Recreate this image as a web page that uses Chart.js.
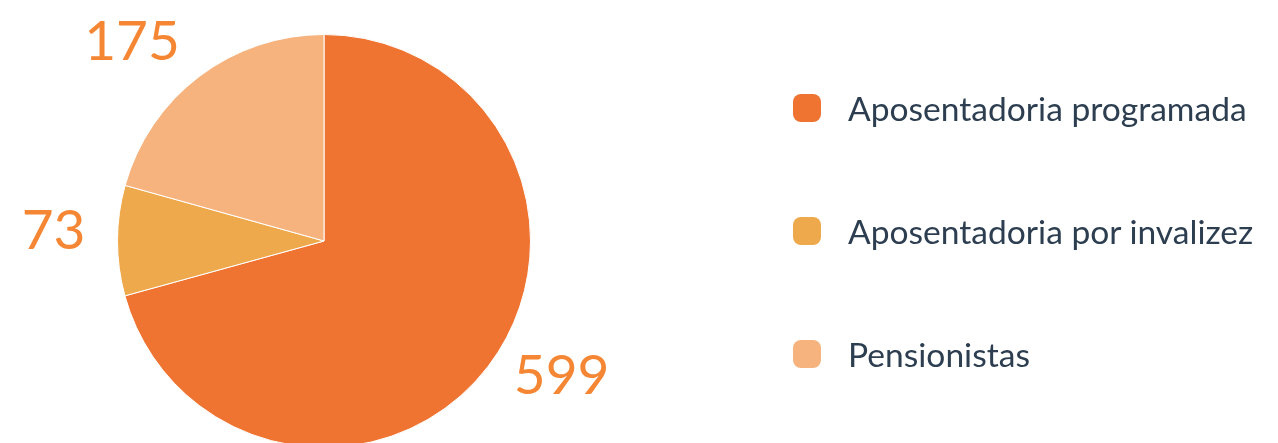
<!DOCTYPE html>
<html>
<head>
<meta charset="utf-8">
<script src="https://cdn.jsdelivr.net/npm/chart.js@4.4.1/dist/chart.umd.min.js"></script>
<style>
  html, body { margin: 0; padding: 0; background: #fff; overflow: hidden; }
  #wrap { position: relative; width: 1278px; height: 460px; }
  #legend { position: absolute; left: 793px; top: 0; margin: 0; padding: 0; list-style: none;
            font-family: Lato, "Noto Sans", sans-serif; font-size: 33.6px; color: #2c3e50; }
  #legend li { position: absolute; left: 0; display: flex; align-items: center; white-space: nowrap; height: 40px; }
  #legend .box { width: 28px; height: 28px; border-radius: 8px; margin-right: 27px; flex: none; }
</style>
</head>
<body>
<div id="wrap">
  <canvas id="chart"></canvas>
  <ul id="legend"></ul>
</div>
<script>
const categories = ["Aposentadoria programada", "Aposentadoria por invalizez", "Pensionistas"]
const values = [599, 73, 175]
const colors = ["#ef7331", "#efa94d", "#f7b37d"]

// labels outside the pie, pushed away from each slice's middle angle
const outsideLabels = {
  id: "outsideLabels",
  afterDatasetsDraw(chart) {
    const ctx = chart.ctx
    const meta = chart.getDatasetMeta(0)
    ctx.save()
    ctx.font = "55px Lato, 'Noto Sans', sans-serif"
    ctx.fillStyle = "#f58634"
    ctx.textBaseline = "middle"
    meta.data.forEach((arc, i) => {
      const p = arc.getProps(["x", "y", "startAngle", "endAngle", "outerRadius"], true)
      const mid = (p.startAngle + p.endAngle) / 2
      const r = p.outerRadius + 32
      const c = Math.cos(mid)
      const x = p.x + Math.cos(mid) * r
      const y = p.y + Math.sin(mid) * r - 9
      ctx.textAlign = c < -0.1 ? "right" : (c > 0.1 ? "left" : "center")
      ctx.fillText(String(values[i]), x, y)
    })
    ctx.restore()
  }
}

const chart = new Chart(document.getElementById("chart"), {
  type: "pie",
  data: {
    labels: categories,
    datasets: [{
      data: values,
      backgroundColor: colors,
      borderColor: "#ffffff",
      borderWidth: 1,
      hoverOffset: 0
    }]
  },
  options: {
    responsive: true,
    maintainAspectRatio: false,
    animation: false,
    layout: { padding: { top: 34, bottom: 12, left: 0, right: 630 } },
    plugins: {
      legend: { display: false },
      tooltip: { enabled: false }
    }
  },
  plugins: [outsideLabels]
})

const rowCenters = [108, 231, 354]
const legend = document.getElementById("legend")
categories.forEach((name, i) => {
  const li = document.createElement("li")
  li.style.top = (rowCenters[i] - 20) + "px"
  li.innerHTML = '<span class="box" style="background:' + colors[i] + '"></span><span>' + name + '</span>'
  legend.appendChild(li)
})
</script>
</body>
</html>
